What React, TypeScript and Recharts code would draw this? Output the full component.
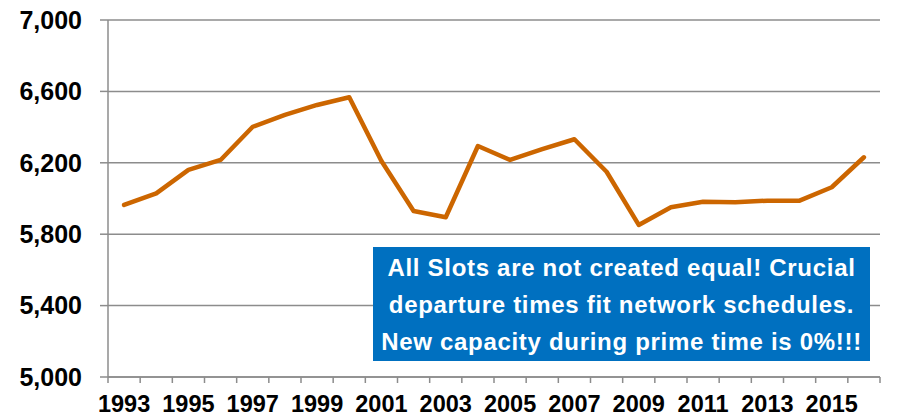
import React from 'react';
import { LineChart, Line, XAxis, YAxis, CartesianGrid } from 'recharts';

const years = [1993,1994,1995,1996,1997,1998,1999,2000,2001,2002,2003,2004,2005,2006,2007,2008,2009,2010,2011,2012,2013,2014,2015,2016];
const slots = [5964,6029,6160,6216,6402,6468,6524,6567,6210,5930,5895,6294,6216,6276,6332,6150,5852,5951,5982,5979,5988,5988,6063,6231];
const yTicks = [5000,5400,5800,6200,6600,7000];
const labelYears = [1993,1995,1997,1999,2001,2003,2005,2007,2009,2011,2013,2015];
const noteLines = [
  'All Slots are not created equal! Crucial',
  'departure times fit network schedules.',
  'New capacity during prime time is 0%!!!',
];

const data = years.map((y, i) => ({ year: y, value: slots[i] }));
const boundaries = [...years.map((y) => y - 0.5), years[years.length - 1] + 0.5];
const domain = [years[0] - 0.5, years[years.length - 1] + 0.5];

const FONT = '"Liberation Sans", Arial, sans-serif';
const GRAY = '#8c8c8c';

export default function App() {
  return (
    <div style={{ position: 'absolute', left: 0, top: 0, width: 897, height: 416, background: '#fff' }}>
      <LineChart width={897} height={416} data={data} margin={{ top: 20, right: 17, bottom: 0, left: 0 }}>
        <CartesianGrid vertical={false} stroke={GRAY} strokeWidth={1.5} />
        <XAxis
          xAxisId="grid"
          dataKey="year"
          type="number"
          domain={domain}
          ticks={boundaries}
          tickFormatter={() => ''}
          stroke={GRAY}
          strokeWidth={1.5}
          tickSize={6}
          height={5}
          interval={0}
          allowDecimals
        />
        <XAxis
          xAxisId="labels"
          dataKey="year"
          type="number"
          domain={domain}
          ticks={labelYears}
          axisLine={false}
          tickLine={false}
          height={34}
          interval={0}
          tickMargin={7}
          tick={{ fill: '#000', fontSize: 23.5, fontWeight: 'bold', fontFamily: FONT }}
        />
        <YAxis
          domain={[5000, 7000]}
          ticks={yTicks}
          width={108}
          stroke={GRAY}
          strokeWidth={1.5}
          tickSize={8}
          tickMargin={18}
          tickFormatter={(v: number) => v.toLocaleString('en-US')}
          tick={{ fill: '#000', fontSize: 25, fontWeight: 'bold', fontFamily: FONT }}
          interval={0}
        />
        <Line
          xAxisId="grid"
          type="linear"
          dataKey="value"
          stroke="#CC6600"
          strokeWidth={4.5}
          strokeLinejoin="round"
          strokeLinecap="round"
          dot={false}
          isAnimationActive={false}
        />
      </LineChart>
      <div
        style={{
          position: 'absolute',
          left: 373,
          top: 247,
          width: 497,
          height: 114,
          background: '#0070C0',
          color: '#fff',
          fontFamily: FONT,
          fontWeight: 'bold',
          fontSize: 24,
          letterSpacing: 0.7,
          lineHeight: '37px',
          textAlign: 'center',
          paddingTop: 2,
          boxSizing: 'border-box',
          whiteSpace: 'nowrap',
        }}
      >
        {noteLines.map((t) => (
          <div key={t}>{t}</div>
        ))}
      </div>
    </div>
  );
}
